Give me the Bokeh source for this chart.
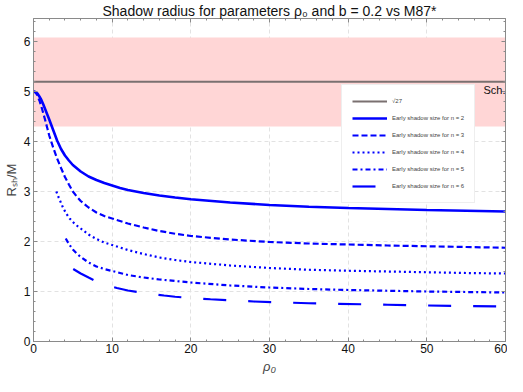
import math
from bokeh.plotting import figure
from bokeh.models import Range1d, LinearAxis, SingleIntervalTicker, Legend, LegendItem, Label
from bokeh.embed import file_html
from bokeh.resources import INLINE

# ---------------- data ----------------
sqrt27 = math.sqrt(27)
band_lo = 4.3
band_hi = 6.08
band_x = [0, 60]

x_n2 = [0, 0.25, 0.5, 0.75, 1, 1.25, 1.5, 1.75, 2, 2.5, 3, 3.5, 4, 4.5, 5, 6, 7, 8, 9, 10, 11, 12,
        14, 16, 18, 20, 25, 30, 35, 40, 45, 50, 55, 60]
y_n2 = [5.0, 4.99, 4.96, 4.9, 4.83, 4.74, 4.64, 4.54, 4.44, 4.23, 4.02, 3.85, 3.72, 3.62, 3.53,
        3.40, 3.30, 3.23, 3.17, 3.12, 3.07, 3.03, 2.97, 2.92, 2.88, 2.845, 2.78, 2.73, 2.695,
        2.67, 2.65, 2.63, 2.615, 2.60]

x_n3 = [0, 0.25, 0.5, 0.75, 1, 1.25, 1.5, 1.75, 2, 2.5, 3, 3.5, 4, 4.5, 5, 5.5, 6, 7, 8, 9, 10,
        11, 12, 14, 16, 18, 20, 25, 30, 35, 40, 45, 50, 55, 60]
y_n3 = [5.0, 4.98, 4.92, 4.82, 4.7, 4.56, 4.42, 4.27, 4.12, 3.88, 3.66, 3.47, 3.29, 3.14, 3.0,
        2.9, 2.81, 2.68, 2.58, 2.51, 2.46, 2.41, 2.36, 2.28, 2.21, 2.155, 2.11, 2.04, 1.99,
        1.96, 1.94, 1.92, 1.905, 1.89, 1.875]

x_n4 = [2.9, 3.2, 3.5, 3.8, 4.2, 4.6, 5, 5.5, 6, 7, 8, 9, 10, 11, 12, 14, 16, 18, 20, 25, 30,
        35, 40, 45, 50, 55, 60]
y_n4 = [3.0, 2.88, 2.77, 2.66, 2.55, 2.46, 2.39, 2.32, 2.26, 2.14, 2.05, 1.98, 1.93, 1.88, 1.83,
        1.75, 1.68, 1.63, 1.59, 1.52, 1.47, 1.435, 1.415, 1.40, 1.385, 1.37, 1.36]

x_n5 = [4.1, 4.5, 5, 5.5, 6, 7, 8, 9, 10, 11, 12, 14, 16, 18, 20, 25, 30, 35, 40, 45, 50, 55, 60]
y_n5 = [2.06, 1.95, 1.84, 1.76, 1.69, 1.58, 1.5, 1.45, 1.41, 1.37, 1.33, 1.28, 1.24, 1.21, 1.18,
        1.12, 1.08, 1.05, 1.03, 1.015, 1.0, 0.99, 0.98]

x_n6 = [5.05, 6, 7, 7.9, 9, 10.6, 12, 13.7, 15, 16.6, 18, 20, 22.5, 25, 28, 31, 35, 38, 45, 50,
        55, 60]
y_n6 = [1.45, 1.36, 1.28, 1.21, 1.14, 1.07, 1.02, 0.98, 0.95, 0.92, 0.895, 0.87, 0.845, 0.825,
        0.80, 0.785, 0.765, 0.755, 0.735, 0.72, 0.71, 0.70]

x_ticks_interval = 10
y_ticks_interval = 1

legend_labels = ["√27", "Early shadow size for n = 2", "Early shadow size for n = 3",
                 "Early shadow size for n = 4", "Early shadow size for n = 5",
                 "Early shadow size for n = 6"]

FONT = "Liberation Sans"
AXC = "#8a8a8a"

p = figure(width=507, height=376, x_range=Range1d(0, 60), y_range=Range1d(0, 6.46),
           output_backend="svg", toolbar_location=None,
           title="Shadow radius for parameters ρ₀ and b = 0.2 vs M87*",
           min_border_left=0, min_border_right=2, min_border_top=0, min_border_bottom=0)
p.outline_line_color = None
p.background_fill_color = "white"

p.title.align = "center"
p.title.text_font = FONT
p.title.text_font_size = "14px"
p.title.text_font_style = "normal"
p.title.text_color = "#111111"
p.title.standoff = 0


def style_axis(ax, labels=True):
    ax.axis_line_color = AXC
    ax.major_tick_line_color = AXC
    ax.minor_tick_line_color = AXC
    ax.major_tick_in = 4
    ax.major_tick_out = 0
    ax.minor_tick_in = 2
    ax.minor_tick_out = 0
    if labels:
        ax.major_label_text_font = FONT
        ax.major_label_text_font_size = "12px"
        ax.major_label_text_color = "#111111"
        ax.major_label_standoff = 2
    else:
        ax.major_label_text_font_size = "1px"
        ax.major_label_text_color = None
        ax.major_label_standoff = 0


p.xaxis.ticker = SingleIntervalTicker(interval=x_ticks_interval, num_minor_ticks=5)
p.yaxis.ticker = SingleIntervalTicker(interval=y_ticks_interval, num_minor_ticks=5)
style_axis(p.xaxis[0])
style_axis(p.yaxis[0])
p.yaxis.major_label_standoff = 3
p.xaxis.axis_label = "ρ₀"
p.xaxis.axis_label_text_font = FONT
p.xaxis.axis_label_text_font_size = "13px"
p.xaxis.axis_label_text_font_style = "italic"
p.xaxis.axis_label_standoff = 3
p.yaxis.axis_label = "Rₛₕ/M"
p.yaxis.axis_label_text_font = FONT
p.yaxis.axis_label_text_font_size = "13px"
p.yaxis.axis_label_text_font_style = "normal"
p.yaxis.axis_label_standoff = 2

top_ax = LinearAxis(ticker=SingleIntervalTicker(interval=x_ticks_interval, num_minor_ticks=5))
style_axis(top_ax, labels=False)
p.add_layout(top_ax, "above")
right_ax = LinearAxis(ticker=SingleIntervalTicker(interval=y_ticks_interval, num_minor_ticks=5))
style_axis(right_ax, labels=False)
p.add_layout(right_ax, "right")

p.xgrid.ticker = SingleIntervalTicker(interval=x_ticks_interval)
p.ygrid.ticker = SingleIntervalTicker(interval=y_ticks_interval)
p.grid.grid_line_color = "#e2e2e2"
p.grid.grid_line_dash = "4 3"
p.grid.grid_line_width = 1

# band and reference line
p.varea(x=band_x, y1=[band_lo] * 2, y2=[band_hi] * 2, fill_color="#ffd6d6", fill_alpha=1)
r0 = p.line(band_x, [sqrt27] * 2, line_color="#7a7070", line_width=2)

BLUE = "#0000ff"
r2 = p.line(x_n2, y_n2, line_color=BLUE, line_width=2.6)
r3 = p.line(x_n3, y_n3, line_color=BLUE, line_width=2.2, line_dash="6 3")
r4 = p.line(x_n4, y_n4, line_color=BLUE, line_width=2.2, line_dash="2 3")
r5 = p.line(x_n5, y_n5, line_color=BLUE, line_width=2.2, line_dash="5 3 2 3")
r6 = p.line(x_n6, y_n6, line_color=BLUE, line_width=2.2, line_dash="23 22")

p.add_layout(Label(x=60, y=5.04, text="Sch.", text_align="right", text_baseline="middle",
                   text_font=FONT, text_font_size="11px", text_color="#111111"))

items = [LegendItem(label=legend_labels[i], renderers=[r]) for i, r in enumerate([r0, r2, r3, r4, r5, r6])]
legend = Legend(items=items, location=(308, 138), label_text_font=FONT, label_text_font_size="6px",
                label_text_color="#444444", label_height=12, glyph_height=12, glyph_width=35,
                spacing=5, padding=10, margin=0, label_standoff=5,
                border_line_color="#dddddd", border_line_width=1,
                background_fill_color="white", background_fill_alpha=1)
p.add_layout(legend)

open("out.html", "w").write(file_html(p, INLINE))
